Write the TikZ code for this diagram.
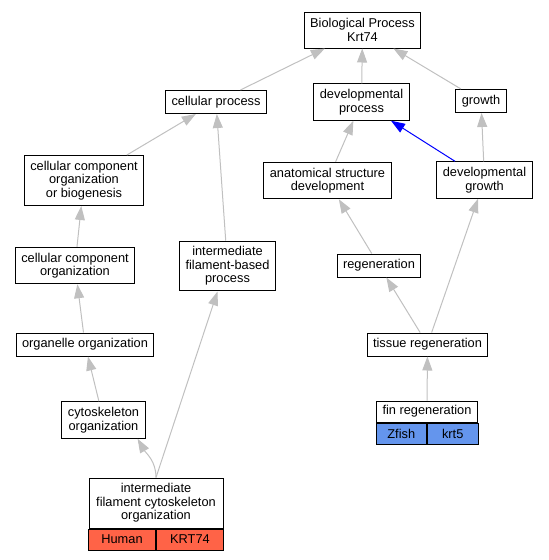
\documentclass[tikz,border=0pt]{standalone}
\usepackage{fontspec}
\setmainfont{Liberation Sans}
\usetikzlibrary{arrows.meta}
\definecolor{humanred}{HTML}{FF6347}
\definecolor{zfishblue}{HTML}{6495ED}
\definecolor{edgegray}{HTML}{C0C0C0}
\tikzstyle{term}=[draw, line width=1pt, fill=white, align=center, inner xsep=6pt, inner ysep=5.5pt, minimum height=23pt, font=\fontsize{12.8}{13.5}\selectfont]
\tikzstyle{cell}=[draw, line width=1pt, inner sep=0pt, minimum height=21pt, font=\fontsize{12.8}{13.5}\selectfont]
\tikzset{isa/.style={draw=edgegray, line width=1pt, arrows={-Triangle[length=14pt, width=10pt, fill=edgegray]}}}
\tikzset{isablue/.style={draw=blue, line width=1pt, arrows={-Triangle[length=14pt, width=10pt, fill=blue]}}}

\begin{document}
\begin{tikzpicture}[x=1pt, y=-1pt]
		   \useasboundingbox (0, 0) rectangle (549, 560);
		   \begin{scope}
			   \node (0) at (362.5, 30)[term, minimum height=36pt] {Biological Process\\Krt74};
			   \node (1) at (216, 102)[term] {cellular process};
			   \node (2) at (361.5, 102)[term] {developmental\\process};
			   \node (3) at (481, 101)[term] {growth};
			   \node (4) at (84, 180.5)[term] {cellular component\\organization\\or biogenesis};
			   \node (5) at (327.5, 180.5)[term] {anatomical structure\\development};
			   \node (6) at (484.5, 180)[term] {developmental\\growth};
			   \node (7) at (75, 265.5)[term] {cellular component\\organization};
			   \node (8) at (227.5, 266)[term] {intermediate\\filament-based\\process};
			   \node (9) at (379, 265.5)[term] {regeneration};
			   \node (10) at (85, 344.5)[term] {organelle organization};
			   \node (11) at (427.5, 344.5)[term] {tissue regeneration};
			   \node (12) at (103.5, 420)[term] {cytoskeleton\\organization};
			   % annotated terms
			   \node (13) at (427, 411.5)[term, minimum width=101pt, minimum height=21pt, inner ysep=4.5pt] {fin regeneration};
			   \node (14) at (13.south)[cell, fill=zfishblue, minimum width=50.5pt, anchor=north east] {Zfish};
			   \node (15) at (13.south)[cell, fill=zfishblue, minimum width=50.5pt, anchor=north west] {krt5};
			   \node (16) at (156, 503)[term, minimum width=134pt, minimum height=50pt] {intermediate\\filament cytoskeleton\\organization};
			   \node (17) at (16.south)[cell, fill=humanred, minimum width=67pt, anchor=north east] {Human};
			   \node (18) at (16.south)[cell, fill=humanred, minimum width=67pt, anchor=north west] {KRT74};
		   \end{scope}
		   \begin{scope}
			   \draw [isa] (1) -- (0);
			   \draw [isa] (2) -- (0);
			   \draw [isa] (3) -- (0);
			   \draw [isa] (4) -- (1);
			   \draw [isa] (8) -- (1);
			   \draw [isa] (5) -- (2);
			   \draw [isablue] (6) -- (2);
			   \draw [isa] (6) -- (3);
			   \draw [isa] (7) -- (4);
			   \draw [isa] (9) -- (5);
			   \draw [isa] (10) -- (7);
			   \draw [isa] (11) -- (9);
			   \draw [isa] (11) -- (6);
			   \draw [isa] (12) -- (10);
			   \draw [isa] (13) -- (11);
			   \draw [isa] (16.north) to[out=90, in=-60] ([xshift=-8pt]12.south east);
			   \draw [isa] (16.north) -- ([xshift=-10pt]8.south);
		   \end{scope}
	   \end{tikzpicture}
\end{document}
